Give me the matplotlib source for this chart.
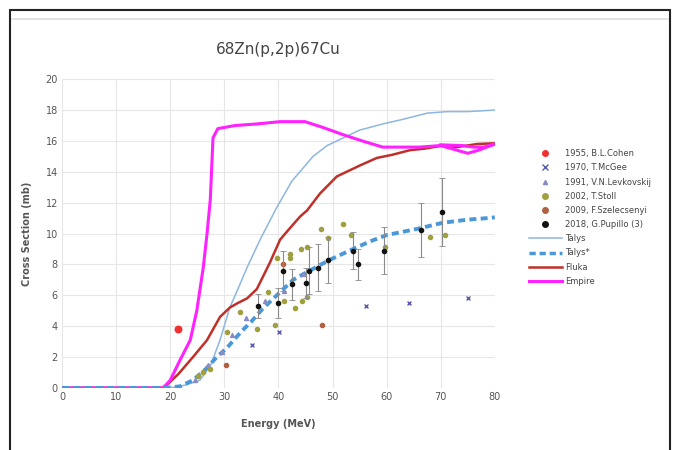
import matplotlib.pyplot as plt
from matplotlib.patches import Rectangle
from matplotlib.lines import Line2D

# model curves (energy in MeV, cross section in mb)
talys_e = [0, 10, 19, 21, 23, 25.5, 27.5, 29.2, 31, 32.5, 34.2, 36.6, 39.7, 42.5, 46.4, 49, 52, 55, 59.3, 63, 67.5, 71.2, 75, 80]
talys_y = [0, 0, 0, 0.05, 0.2, 0.5, 1.5, 3.1, 5.2, 6.4, 7.8, 9.6, 11.7, 13.4, 15.0, 15.7, 16.2, 16.7, 17.1, 17.4, 17.8, 17.9, 17.9, 18.0]

talysx_e = [0, 10, 19, 21.8, 24.2, 26.5, 28.6, 30.5, 33, 35, 37, 40.3, 42.7, 45.8, 49.5, 53.8, 57, 60, 65.6, 70.4, 75, 78.6, 80]
talysx_y = [0, 0, 0, 0.1, 0.5, 1.2, 2.0, 2.6, 3.6, 4.3, 5.1, 6.2, 7.0, 7.6, 8.3, 9.0, 9.5, 9.9, 10.3, 10.7, 10.9, 11.0, 11.05]

fluka_e = [0, 10, 18.5, 19.4, 21.5, 24.2, 26.8, 29.2, 31, 32.5, 34.2, 36, 38.4, 40.3, 42, 44, 45.3, 47.7, 50.8, 52, 55, 58.2, 61, 64.3, 67, 70.4, 73, 76.7, 80]
fluka_y = [0, 0, 0, 0.2, 0.9, 2.0, 3.1, 4.6, 5.2, 5.5, 5.8, 6.4, 8.1, 9.6, 10.3, 11.1, 11.5, 12.6, 13.7, 13.9, 14.4, 14.9, 15.1, 15.4, 15.5, 15.7, 15.6, 15.8, 15.85]

empire_e = [0, 10, 18.7, 20, 21.8, 23.7, 24.9, 26.1, 26.8, 27.4, 27.9, 28.8, 32, 36, 40.3, 44.9, 48, 52, 55.5, 59.3, 63, 66, 69.9, 72, 75, 77, 80, 78, 76, 74, 70]
empire_y = [0, 0, 0, 0.5, 1.8, 3.1, 5.0, 7.8, 10.0, 12.2, 16.2, 16.8, 17.0, 17.1, 17.25, 17.25, 16.9, 16.4, 16.0, 15.6, 15.6, 15.6, 15.7, 15.5, 15.2, 15.4, 15.8, 15.6, 15.6, 15.7, 15.75]

# experimental data
cohen_e = [21.4]
cohen_y = [3.8]

mcgee_e = [35.1, 40.1, 56.2, 64.1, 75.0]
mcgee_y = [2.8, 3.6, 5.3, 5.5, 5.8]

levk_e = [24.5, 27.0, 29.5, 31.5, 34.0, 37.5, 41.0, 44.5]
levk_y = [0.5, 1.5, 2.3, 3.4, 4.5, 5.6, 6.3, 7.4]

stoll_e = [25.2, 26.1, 27.3, 30.5, 32.9, 36.0, 38.1, 39.4, 39.7, 41.0, 42.1, 42.1, 43.1, 44.2, 44.4, 45.3, 45.3, 47.9, 49.2, 52.0, 53.4, 59.7, 68.0, 70.8]
stoll_y = [0.8, 1.0, 1.2, 3.6, 4.9, 3.8, 6.2, 4.1, 8.4, 5.6, 8.7, 8.4, 5.2, 9.0, 5.6, 5.9, 9.1, 10.3, 9.7, 10.6, 9.9, 9.1, 9.8, 9.9]

szel_e = [30.3, 40.9, 48.0]
szel_y = [1.5, 8.0, 4.1]

pup_e = [36.2, 40.0, 40.9, 42.5, 45.1, 45.7, 47.3, 49.2, 53.8, 54.7, 59.5, 66.4, 70.2]
pup_y = [5.3, 5.5, 7.6, 6.7, 6.8, 7.6, 7.8, 8.3, 8.9, 8.0, 8.9, 10.2, 11.4]
pup_err = [0.8, 1.0, 1.3, 1.0, 1.0, 1.5, 1.5, 1.5, 1.2, 1.0, 1.5, 1.75, 2.2]

fig = plt.figure(figsize=(6.75, 4.5), dpi=100)
ax = fig.add_axes([0.092, 0.138, 0.641, 0.686])

ax.plot(talys_e, talys_y, color="#8db6e0", lw=1.1, zorder=3)
ax.plot(fluka_e, fluka_y, color="#c0302a", lw=1.8, zorder=3)
ax.plot(empire_e, empire_y, color="#ff22ff", lw=2.2, zorder=3)
ax.plot(talysx_e, talysx_y, color="#4a98d8", lw=2.8, ls=(0, (1.8, 1.1)), zorder=3.5)

ax.scatter(cohen_e, cohen_y, s=22, color="#f03030", zorder=4)
ax.scatter(mcgee_e, mcgee_y, s=8, color="#5a5ab0", marker="x", lw=1, zorder=4)
ax.scatter(levk_e, levk_y, s=8, color="#8a8ac8", marker="^", zorder=4)
ax.scatter(stoll_e, stoll_y, s=9, color="#a0a040", zorder=4)
ax.scatter(szel_e, szel_y, s=9, color="#b06040", zorder=4)
ax.errorbar(pup_e, pup_y, yerr=pup_err, fmt="o", ms=3, color="#111111",
            ecolor="#8a8a8a", elinewidth=0.8, capsize=2, capthick=0.6, zorder=4)

ax.set_xlim(0, 80)
ax.set_ylim(0, 20)
ax.set_xticks(range(0, 81, 10))
ax.set_yticks(range(0, 21, 2))
ax.grid(True, color="#e6e6e6", lw=0.8)
ax.set_axisbelow(True)
for s in ax.spines.values():
    s.set_visible(False)
ax.tick_params(length=0, labelsize=7, colors="#555555", pad=3)
ax.set_xlabel("Energy (MeV)", fontsize=7, fontweight="bold", color="#555555", labelpad=12)
ax.set_ylabel("Cross Section (mb)", fontsize=7, fontweight="bold", color="#555555", labelpad=10)
ax.set_title("68Zn(p,2p)67Cu", fontsize=11, color="#444444", pad=18)

handles = [
    Line2D([], [], ls="", marker="o", ms=4, color="#f03030"),
    Line2D([], [], ls="", marker="x", ms=4, color="#5a5ab0"),
    Line2D([], [], ls="", marker="^", ms=3, color="#8a8ac8"),
    Line2D([], [], ls="", marker="o", ms=4, color="#a0a040"),
    Line2D([], [], ls="", marker="o", ms=4, color="#b06040"),
    Line2D([], [], ls="", marker="o", ms=4, color="#111111"),
    Line2D([], [], color="#8db6e0", lw=1.1),
    Line2D([], [], color="#4a98d8", lw=2.5, ls=(0, (1.8, 1.1))),
    Line2D([], [], color="#c0302a", lw=1.8),
    Line2D([], [], color="#ff22ff", lw=2.2),
]
labels = ["1955, B.L.Cohen", "1970, T.McGee", "1991, V.N.Levkovskij", "2002, T.Stoll",
          "2009, F.Szelecsenyi", "2018, G.Pupillo (3)", "Talys", "Talys*", "Fluka", "Empire"]
leg = fig.legend(handles, labels, loc="upper left", bbox_to_anchor=(0.772, 0.685),
                 frameon=False, fontsize=6, handlelength=4, handletextpad=0.4,
                 labelspacing=0.62)
for t in leg.get_texts():
    t.set_color("#444444")

# outer frame of the picture
fig.patches.append(Rectangle((10 / 675, -0.1), 660 / 675, 1.1 - 10 / 450,
                             transform=fig.transFigure, fill=False, ec="#222222", lw=1.5))
fig.add_artist(Line2D([12 / 675, 668 / 675], [1 - 19 / 450, 1 - 19 / 450],
                      transform=fig.transFigure, color="#dddddd", lw=1.2))

fig.savefig("out.png", dpi=100)
